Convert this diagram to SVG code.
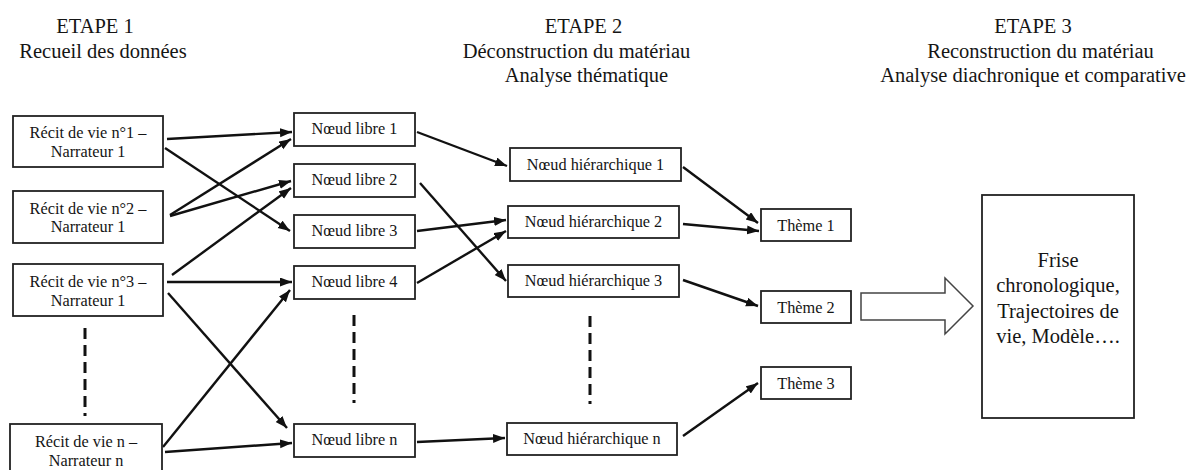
<svg xmlns="http://www.w3.org/2000/svg" width="1190" height="470" viewBox="0 0 1190 470">
<style>
.bg{fill:#fff}
.box{fill:#fff;stroke:#222;stroke-width:1.8}
.t{font-family:"Liberation Serif","Times New Roman",serif;font-size:16.3px;fill:#151515;text-anchor:middle}
.h{font-size:20.5px}
.big{font-size:20.5px}
.c{stroke:#111;stroke-width:2.4;fill:none;marker-end:url(#ah)}
.dash{stroke:#111;stroke-width:3;stroke-dasharray:11 6;fill:none}
.blk{fill:#fff;stroke:#444;stroke-width:1.5}
</style>
<defs>
<marker id="ah" markerUnits="userSpaceOnUse" markerWidth="13" markerHeight="10" refX="12" refY="4.5" orient="auto">
<path d="M0,0 L12,4.5 L0,9 z" fill="#111"/>
</marker>
</defs>
<rect class="bg" x="0" y="0" width="1190" height="470"/>

<g id="headers">
<text class="t h" x="95" y="33">ETAPE 1</text>
<text class="t h" x="103" y="58">Recueil des données</text>
<text class="t h" x="583.5" y="33">ETAPE 2</text>
<text class="t h" x="576.5" y="58">Déconstruction du matériau</text>
<text class="t h" x="586.5" y="82">Analyse thématique</text>
<text class="t h" x="1033" y="33">ETAPE 3</text>
<text class="t h" x="1040.5" y="58">Reconstruction du matériau</text>
<text class="t h" x="1033" y="82">Analyse diachronique et comparative</text>
</g>

<g id="connectors">
<line class="c" x1="167" y1="139" x2="292" y2="132"/>
<line class="c" x1="165" y1="148" x2="290" y2="231"/>
<line class="c" x1="170" y1="215" x2="291" y2="139"/>
<line class="c" x1="170" y1="216" x2="291" y2="181"/>
<line class="c" x1="172" y1="275" x2="291" y2="188"/>
<line class="c" x1="167" y1="282" x2="292" y2="282"/>
<line class="c" x1="168" y1="293" x2="287" y2="428"/>
<line class="c" x1="163" y1="447" x2="290" y2="290"/>
<line class="c" x1="165" y1="452" x2="292" y2="443"/>
<line class="c" x1="417" y1="132" x2="507" y2="166"/>
<line class="c" x1="420" y1="183" x2="506" y2="281"/>
<line class="c" x1="417" y1="231" x2="506" y2="220"/>
<line class="c" x1="417" y1="283" x2="506" y2="231"/>
<line class="c" x1="417" y1="442" x2="505" y2="438"/>
<line class="c" x1="683" y1="167" x2="758" y2="223"/>
<line class="c" x1="683" y1="224" x2="759" y2="231"/>
<line class="c" x1="683" y1="280" x2="758" y2="306"/>
<line class="c" x1="683" y1="436" x2="758" y2="383"/>
<line class="dash" x1="85" y1="328" x2="85" y2="416"/>
<line class="dash" x1="354" y1="315" x2="354" y2="403"/>
<line class="dash" x1="590" y1="316" x2="590" y2="404"/>
<polygon id="block-arrow" class="blk" points="861,293 945,293 945,278 973,306 945,334 945,320 861,320"/>
</g>

<g id="r1"><rect class="box" x="13" y="116" width="150" height="51"/>
<text class="t" x="88" y="138">Récit de vie n°1 –</text><text class="t" x="88" y="157">Narrateur 1</text></g>
<g id="r2"><rect class="box" x="13" y="191" width="150" height="52"/>
<text class="t" x="88" y="213.5">Récit de vie n°2 –</text><text class="t" x="88" y="232">Narrateur 1</text></g>
<g id="r3"><rect class="box" x="13" y="264" width="150" height="52"/>
<text class="t" x="88" y="287">Récit de vie n°3 –</text><text class="t" x="88" y="306">Narrateur 1</text></g>
<g id="rn"><rect class="box" x="10" y="424" width="152" height="52"/>
<text class="t" x="86" y="447">Récit de vie n –</text><text class="t" x="86" y="465.5">Narrateur n</text></g>

<g id="nl1"><rect class="box" x="294" y="113" width="121" height="33"/><text class="t" x="354.5" y="134">Nœud libre 1</text></g>
<g id="nl2"><rect class="box" x="294" y="164" width="121" height="33"/><text class="t" x="354.5" y="185">Nœud libre 2</text></g>
<g id="nl3"><rect class="box" x="294" y="215" width="121" height="33"/><text class="t" x="354.5" y="236">Nœud libre 3</text></g>
<g id="nl4"><rect class="box" x="294" y="266" width="121" height="33"/><text class="t" x="354.5" y="287">Nœud libre 4</text></g>
<g id="nln"><rect class="box" x="294" y="424" width="121" height="33"/><text class="t" x="354.5" y="445">Nœud libre n</text></g>

<g id="nh1"><rect class="box" x="510" y="148" width="171" height="33"/><text class="t" x="595.5" y="169.5">Nœud hiérarchique 1</text></g>
<g id="nh2"><rect class="box" x="508" y="206" width="171" height="32"/><text class="t" x="593.5" y="227">Nœud hiérarchique 2</text></g>
<g id="nh3"><rect class="box" x="508" y="265" width="171" height="32"/><text class="t" x="593.5" y="286">Nœud hiérarchique 3</text></g>
<g id="nhn"><rect class="box" x="507" y="423" width="170" height="32"/><text class="t" x="592" y="444">Nœud hiérarchique n</text></g>

<g id="t1"><rect class="box" x="761" y="209" width="90" height="32"/><text class="t" x="806" y="230.5">Thème 1</text></g>
<g id="t2"><rect class="box" x="761" y="291" width="90" height="32"/><text class="t" x="806" y="312.5">Thème 2</text></g>
<g id="t3"><rect class="box" x="761" y="367" width="90" height="32"/><text class="t" x="806" y="388.5">Thème 3</text></g>

<g id="result"><rect class="box" x="982" y="195" width="152" height="223"/>
<text class="t big" x="1058" y="267">Frise</text>
<text class="t big" x="1058" y="292">chronologique,</text>
<text class="t big" x="1058" y="317.5">Trajectoires de</text>
<text class="t big" x="1058" y="343">vie, Modèle….</text></g>
</svg>
